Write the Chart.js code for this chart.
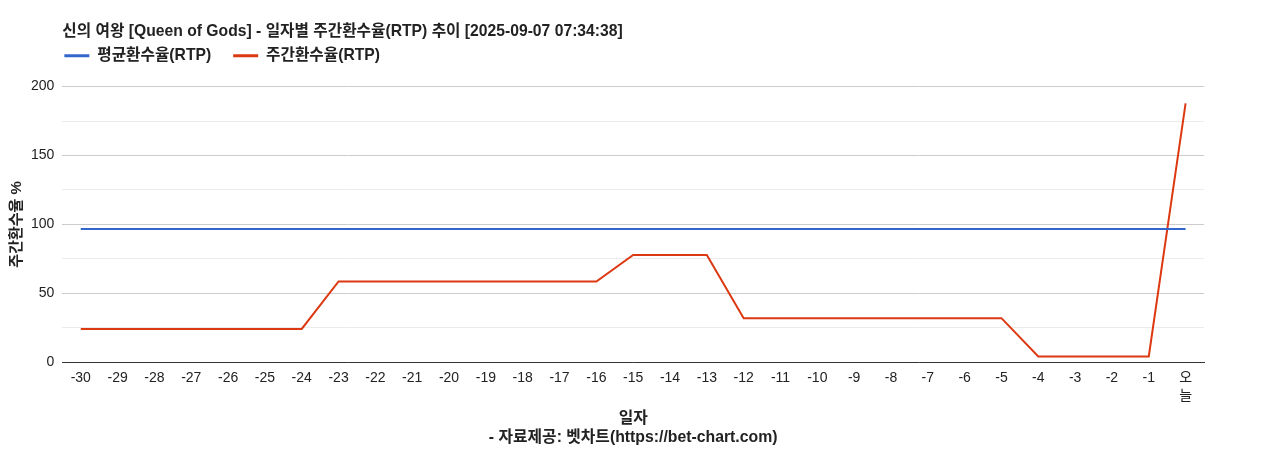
<!DOCTYPE html>
<html>
<head>
<meta charset="utf-8">
<script src="https://cdn.jsdelivr.net/npm/chart.js@4/dist/chart.umd.min.js"></script>
<style>
  html, body { margin: 0; padding: 0; background: #fff; }
  #wrap { width: 1268px; height: 450px; position: relative; }
</style>
</head>
<body>
<div id="wrap"><canvas id="rtp"></canvas></div>
<script>
// 일자 (days before today)
const DAYS = [
  "-30", "-29", "-28", "-27", "-26", "-25", "-24", "-23", "-22", "-21",
  "-20", "-19", "-18", "-17", "-16", "-15", "-14", "-13", "-12", "-11",
  "-10", "-9", "-8", "-7", "-6", "-5", "-4", "-3", "-2", "-1", ["오", "늘"],
];

// 평균환수율(RTP) — flat average
const AVG_RTP = [
  96.6, 96.6, 96.6, 96.6, 96.6, 96.6, 96.6, 96.6, 96.6, 96.6,
  96.6, 96.6, 96.6, 96.6, 96.6, 96.6, 96.6, 96.6, 96.6, 96.6,
  96.6, 96.6, 96.6, 96.6, 96.6, 96.6, 96.6, 96.6, 96.6, 96.6, 96.6,
];

// 주간환수율(RTP)
const WEEKLY_RTP = [
  24.2, 24.2, 24.2, 24.2, 24.2, 24.2, 24.2, 58.6, 58.6, 58.6,
  58.6, 58.6, 58.6, 58.6, 58.6, 77.8, 77.8, 77.8, 32.0, 32.0,
  32.0, 32.0, 32.0, 32.0, 32.0, 32.0, 4.2, 4.2, 4.2, 4.2, 187.8,
];

const Y_TICKS = [0, 50, 100, 150, 200];

const FONT = "'Liberation Sans', Arial, 'Noto Sans CJK KR', sans-serif";
const BLUE = "#3366cc";
const RED = "#dc3912";

Chart.defaults.font.family = FONT;
Chart.defaults.color = "#222";

// title + legend start at the plot's left edge, legend gets extra room below
const alignToArea = {
  id: "alignToArea",
  beforeInit(chart) {
    const fit = chart.legend.fit;
    chart.legend.fit = function () {
      fit.call(this);
      this.height += 13;
    };
  },
  afterLayout(chart) {
    const left = chart.chartArea.left;
    chart.titleBlock.left = left;
    chart.legend.left = left + 2 - chart.legend.options.labels.padding;
  },
};

new Chart(document.getElementById("rtp"), {
  type: "line",
  data: {
    labels: DAYS,
    datasets: [
      {
        label: "평균환수율(RTP)",
        data: AVG_RTP,
        borderColor: BLUE,
        backgroundColor: BLUE,
        borderWidth: 2,
        pointRadius: 0,
      },
      {
        label: "주간환수율(RTP)",
        data: WEEKLY_RTP,
        borderColor: RED,
        backgroundColor: RED,
        borderWidth: 2,
        pointRadius: 0,
      },
    ],
  },
  options: {
    responsive: true,
    maintainAspectRatio: false,
    animation: false,
    layout: { padding: { left: 8, right: 64, top: 8, bottom: 3 } },
    scales: {
      x: {
        offset: true,
        grid: { display: false, drawTicks: false },
        border: { color: "#333", width: 1 },
        ticks: {
          color: "#222",
          font: { size: 14, lineHeight: 1.35 },
          maxRotation: 0,
          autoSkip: false,
          padding: 6,
        },
        title: {
          display: true,
          text: ["일자", "- 자료제공: 벳차트(https://bet-chart.com)"],
          font: { size: 15.8, weight: "bold", lineHeight: 1.2 },
          color: "#222",
          padding: { top: -3, bottom: 0 },
        },
      },
      y: {
        min: 0,
        max: 200,
        border: { display: false },
        grid: {
          drawTicks: false,
          color: (ctx) => (Y_TICKS.includes(ctx.tick.value) ? "#cccccc" : "#ebebeb"),
        },
        ticks: {
          stepSize: 25,
          padding: 8,
          color: "#222",
          font: { size: 14 },
          callback: (v) => (Y_TICKS.includes(v) ? v : ""),
        },
        title: {
          display: true,
          text: "주간환수율 %",
          font: { size: 15, weight: "bold" },
          color: "#222",
          padding: { top: 0, bottom: -3 },
        },
      },
    },
    plugins: {
      title: {
        display: true,
        text: "신의 여왕 [Queen of Gods] - 일자별 주간환수율(RTP) 추이 [2025-09-07 07:34:38]",
        align: "start",
        font: { size: 15.7, weight: "bold" },
        color: "#222",
        padding: { top: 14, bottom: -15 },
      },
      legend: {
        align: "start",
        labels: {
          boxWidth: 25,
          boxHeight: 3,
          padding: 22,
          color: "#222",
          font: { size: 15.7, weight: "bold" },
          generateLabels: (chart) =>
            Chart.defaults.plugins.legend.labels
              .generateLabels(chart)
              .map((l) => ({ ...l, lineWidth: 0 })),
        },
      },
      tooltip: { enabled: false },
    },
  },
  plugins: [alignToArea],
});
</script>
</body>
</html>
